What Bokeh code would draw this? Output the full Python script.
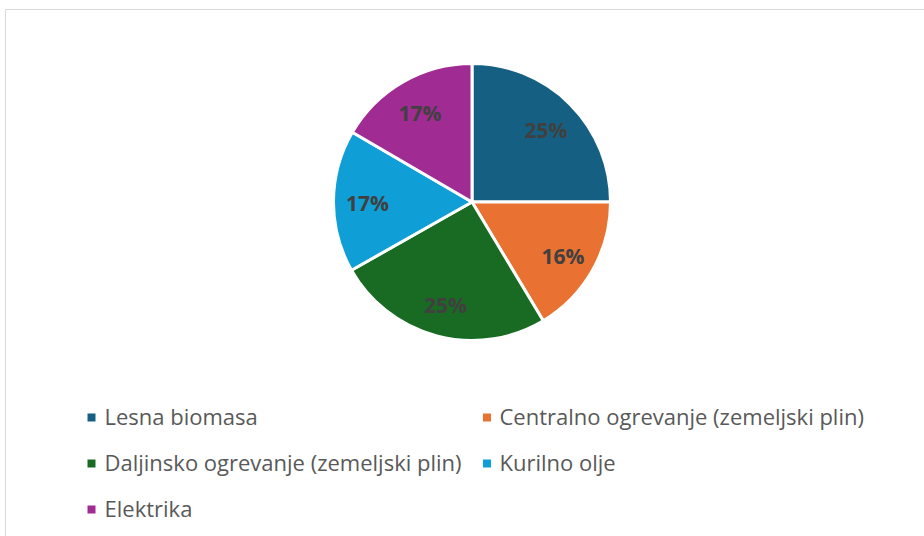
import math
from bokeh.plotting import figure
from bokeh.models import Range1d, ColumnDataSource
from bokeh.core.properties import value
from bokeh.embed import file_html
from bokeh.resources import INLINE

categories = ["Lesna biomasa", "Centralno ogrevanje (zemeljski plin)",
              "Daljinsko ogrevanje (zemeljski plin)", "Kurilno olje", "Elektrika"]
shares = [25.0, 16.4, 25.4, 16.6, 16.6]
colors = ["#156082", "#E97132", "#196B24", "#0F9ED5", "#A02B93"]

W, H = 924, 536
p = figure(width=W, height=H, output_backend="svg", toolbar_location=None,
           x_range=Range1d(0, W), y_range=Range1d(0, H), min_border=0)
p.axis.visible = False
p.grid.visible = False
p.outline_line_color = None
p.background_fill_color = "white"
p.border_fill_color = "white"

# chart-area border
p.quad(left=[5], right=[W + 5], bottom=[-5], top=[H - 9],
       fill_color=None, line_color="#D9D9D9", line_width=1)

cx, cy, r = 471.5, H - 201.5, 138.5
total = sum(shares)
starts, ends, lx, ly, labels = [], [], [], [], []
cum = 0.0
for v in shares:
    a0 = math.pi / 2 - 2 * math.pi * cum / total
    cum += v
    a1 = math.pi / 2 - 2 * math.pi * cum / total
    starts.append(a0)
    ends.append(a1)
    mid = (a0 + a1) / 2
    lx.append(cx + 0.755 * r * math.cos(mid))
    ly.append(cy + 0.755 * r * math.sin(mid) - 2)
    labels.append(f"{round(v / total * 100)}%")

src = ColumnDataSource(dict(start=starts, end=ends, color=colors))
p.wedge(x=cx, y=cy, radius=r, start_angle="start", end_angle="end",
        direction="clock", fill_color="color", line_color="white",
        line_width=3, source=src)

p.text(x=lx, y=ly, text=labels, text_align="center", text_baseline="middle",
       text_font=value("Open Sans"), text_font_style="bold",
       text_font_size="21px", text_color="#404040")

# legend
marker_x = [91, 486.5]
text_x = [104, 499]
row_y = [417, 463, 509]
mx, my, ty, tx = [], [], [], []
for i, name in enumerate(categories):
    c = i % 2
    rr = i // 2
    mx.append(marker_x[c])
    my.append(H - row_y[rr])
    ty.append(H - row_y[rr] + 2)
    tx.append(text_x[c])
p.scatter(x=mx, y=my, marker="square", size=8, fill_color=colors,
          line_color=None)
p.text(x=tx, y=ty, text=categories, text_align="left", text_baseline="middle",
       text_font=value("Open Sans"), text_font_size="22px",
       text_color="#595959")

open("out.html", "w").write(file_html(p, INLINE))
